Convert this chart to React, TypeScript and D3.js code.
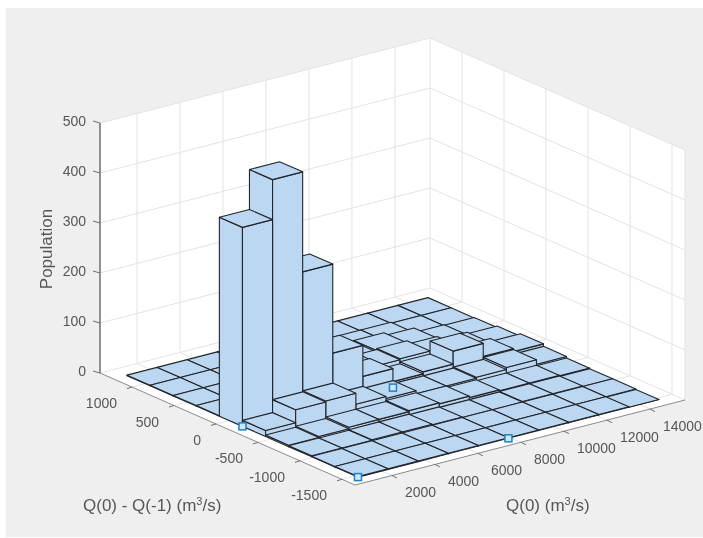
import React from "react";
import * as d3 from "d3";

const xTicks = [2000, 4000, 6000, 8000, 10000, 12000, 14000];
const yTicks = [1000, 500, 0, -500, -1000, -1500];
const zTicks = [0, 100, 200, 300, 400, 500];
const xEdges = d3.range(11).map((i) => 895 + i * 1400);
const yEdges = d3.range(11).map((j) => -1533 + j * 275);

// population by y bin (front to back), x bin (left to right)
const row0 = [1, 1, 1, 1, 1, 1, 1, 1, 1, 0];
const row1 = [1, 1, 1, 1, 1, 1, 1, 1, 1, 1];
const row2 = [2, 2, 3, 3, 2, 1, 1, 2, 2, 1];
const row3 = [3, 5, 8, 8, 10, 8, 5, 3, 3, 2];
const row4 = [12, 38, 40, 18, 14, 8, 8, 10, 14, 5];
const row5 = [398, 478, 278, 100, 38, 12, 16, 42, 16, 10];
const row6 = [1, 2, 5, 20, 36, 20, 22, 15, 8, 5];
const row7 = [1, 1, 1, 3, 10, 15, 18, 12, 3, 2];
const row8 = [1, 1, 1, 1, 2, 3, 3, 3, 1, 1];
const row9 = [1, 1, 1, 1, 1, 1, 1, 1, 1, 1];
const counts = [row0, row1, row2, row3, row4, row5, row6, row7, row8, row9];
const handleBins = [[0, 0], [0, 5], [5, 0], [5, 5]];

const xLim = [281, 15631];
const yLim = [-1655, 1381];
const zLim = [0, 500];

const W = 703, H = 538;
const F = [355, 485];
const EX = [330, -85];
const EY = [-255, -112];
const xs = d3.scaleLinear().domain(xLim).range([0, 1]);
const ys = d3.scaleLinear().domain(yLim).range([0, 1]);
const zs = d3.scaleLinear().domain(zLim).range([0, 250]);
const P = (x: number, y: number, z: number): [number, number] => {
  const a = xs(x), b = ys(y);
  return [F[0] + a * EX[0] + b * EY[0], F[1] + a * EX[1] + b * EY[1] - zs(z)];
};
const poly = d3.line<[number, number]>().curve(d3.curveLinearClosed);
const seg = (a: [number, number], b: [number, number]) => d3.line()([a, b]) as string;

const FONT = "'Liberation Sans', Arial, sans-serif";
const TXT = "#565656";
const GRID = "#e3e3e3";
const BAR = "#bcd7f2";
const EDGE = "#22252a";

const cells = d3
  .cross(d3.range(10), d3.range(10), (i, j) => ({ i, j, z: counts[j][i] }))
  .sort((p, q) => q.i + q.j - (p.i + p.j));

export default function App() {
  const [x0, x1] = xLim, [y0, y1] = yLim;
  return (
    <svg width={W} height={H} style={{ position: "absolute", left: 0, top: 0, filter: "blur(0.35px)" }}>
      <rect width={W} height={H} fill="#fff" />
      <rect x={6} y={8} width={W - 6} height={H - 9} fill="#efefef" />
      {/* walls and floor */}
      <path d={poly([P(x0, y1, 0), P(x1, y1, 0), P(x1, y1, 500), P(x0, y1, 500)]) as string} fill="#fff" />
      <path d={poly([P(x1, y0, 0), P(x1, y1, 0), P(x1, y1, 500), P(x1, y0, 500)]) as string} fill="#fff" />
      <path d={poly([P(x0, y0, 0), P(x1, y0, 0), P(x1, y1, 0), P(x0, y1, 0)]) as string} fill="#fff" />
      <g stroke={GRID} strokeWidth={1} fill="none">
        {zTicks.map((z) => (
          <path key={z} d={d3.line()([P(x0, y1, z), P(x1, y1, z), P(x1, y0, z)]) as string} />
        ))}
        {xTicks.map((x) => (
          <path key={x} d={d3.line()([P(x, y0, 0), P(x, y1, 0), P(x, y1, 500)]) as string} />
        ))}
        {yTicks.map((y) => (
          <path key={y} d={d3.line()([P(x0, y, 0), P(x1, y, 0), P(x1, y, 500)]) as string} />
        ))}
        <path d={seg(P(x1, y1, 0), P(x1, y1, 500))} />
        <path d={seg(P(x1, y0, 0), P(x1, y0, 500))} />
      </g>
      {/* axis lines and ticks */}
      <g stroke="#6e6e6e" fill="none">
        <path d={seg(P(x0, y0, 0), P(x1, y0, 0))} strokeWidth={0.8} />
        <path d={seg(P(x0, y0, 0), P(x0, y1, 0))} strokeWidth={0.8} />
        <path d={seg(P(x0, y1, 0), P(x0, y1, 500))} strokeWidth={1.5} />
        {xTicks.map((x) => {
          const p = P(x, y0, 0);
          return <path key={x} d={seg(p, [p[0] + 5, p[1] + 2.5])} />;
        })}
        {yTicks.map((y) => {
          const p = P(x0, y, 0);
          return <path key={y} d={seg(p, [p[0] - 5, p[1] + 1.5])} />;
        })}
        {zTicks.map((z) => {
          const p = P(x0, y1, z);
          return <path key={z} d={seg(p, [p[0] - 7, p[1] - 2])} />;
        })}
      </g>
      {/* bars */}
      <g stroke={EDGE} strokeWidth={1.1} strokeLinejoin="round" fill={BAR}>
        {cells.map(({ i, j, z }) => {
          const a0 = xEdges[i], a1 = xEdges[i + 1], b0 = yEdges[j], b1 = yEdges[j + 1];
          return (
            <g key={`${i}-${j}`}>
              <path d={poly([P(a0, b0, 0), P(a0, b1, 0), P(a0, b1, z), P(a0, b0, z)]) as string} />
              <path d={poly([P(a0, b0, 0), P(a1, b0, 0), P(a1, b0, z), P(a0, b0, z)]) as string} />
              <path d={poly([P(a0, b0, z), P(a1, b0, z), P(a1, b1, z), P(a0, b1, z)]) as string} />
            </g>
          );
        })}
      </g>
      {/* selection handles */}
      {handleBins.map(([i, j]) => {
        const p = P(xEdges[i], yEdges[j], 0);
        return (
          <rect key={`${i}${j}`} x={p[0] - 3.5} y={p[1] - 3.5} width={7} height={7} fill="#cfe6fb" stroke="#1f7fc4" strokeWidth={1.5} />
        );
      })}
      {/* tick labels */}
      <g fontFamily={FONT} fontSize={14} fill={TXT}>
        {zTicks.map((z) => {
          const p = P(x0, y1, z);
          return (
            <text key={z} x={p[0] - 14} y={p[1] - 2} textAnchor="end" dominantBaseline="central">
              {z}
            </text>
          );
        })}
        {xTicks.map((x) => {
          const p = P(x, y0, 0);
          return (
            <text key={x} x={p[0] + 13} y={p[1] + 17} dominantBaseline="central">
              {x}
            </text>
          );
        })}
        {yTicks.map((y) => {
          const p = P(x0, y, 0);
          return (
            <text key={y} x={p[0] - 15} y={p[1] + 16} textAnchor="end" dominantBaseline="central">
              {y}
            </text>
          );
        })}
      </g>
      {/* axis titles */}
      <g fontFamily={FONT} fontSize={17} fill={TXT}>
        <text transform="translate(52,249) rotate(-90)" textAnchor="middle">Population</text>
        <text x={83} y={511}>
          Q(0) - Q(-1) (m<tspan dy={-6} fontSize={11}>3</tspan><tspan dy={6}>/s)</tspan>
        </text>
        <text x={506} y={511}>
          Q(0) (m<tspan dy={-6} fontSize={11}>3</tspan><tspan dy={6}>/s)</tspan>
        </text>
      </g>
    </svg>
  );
}
